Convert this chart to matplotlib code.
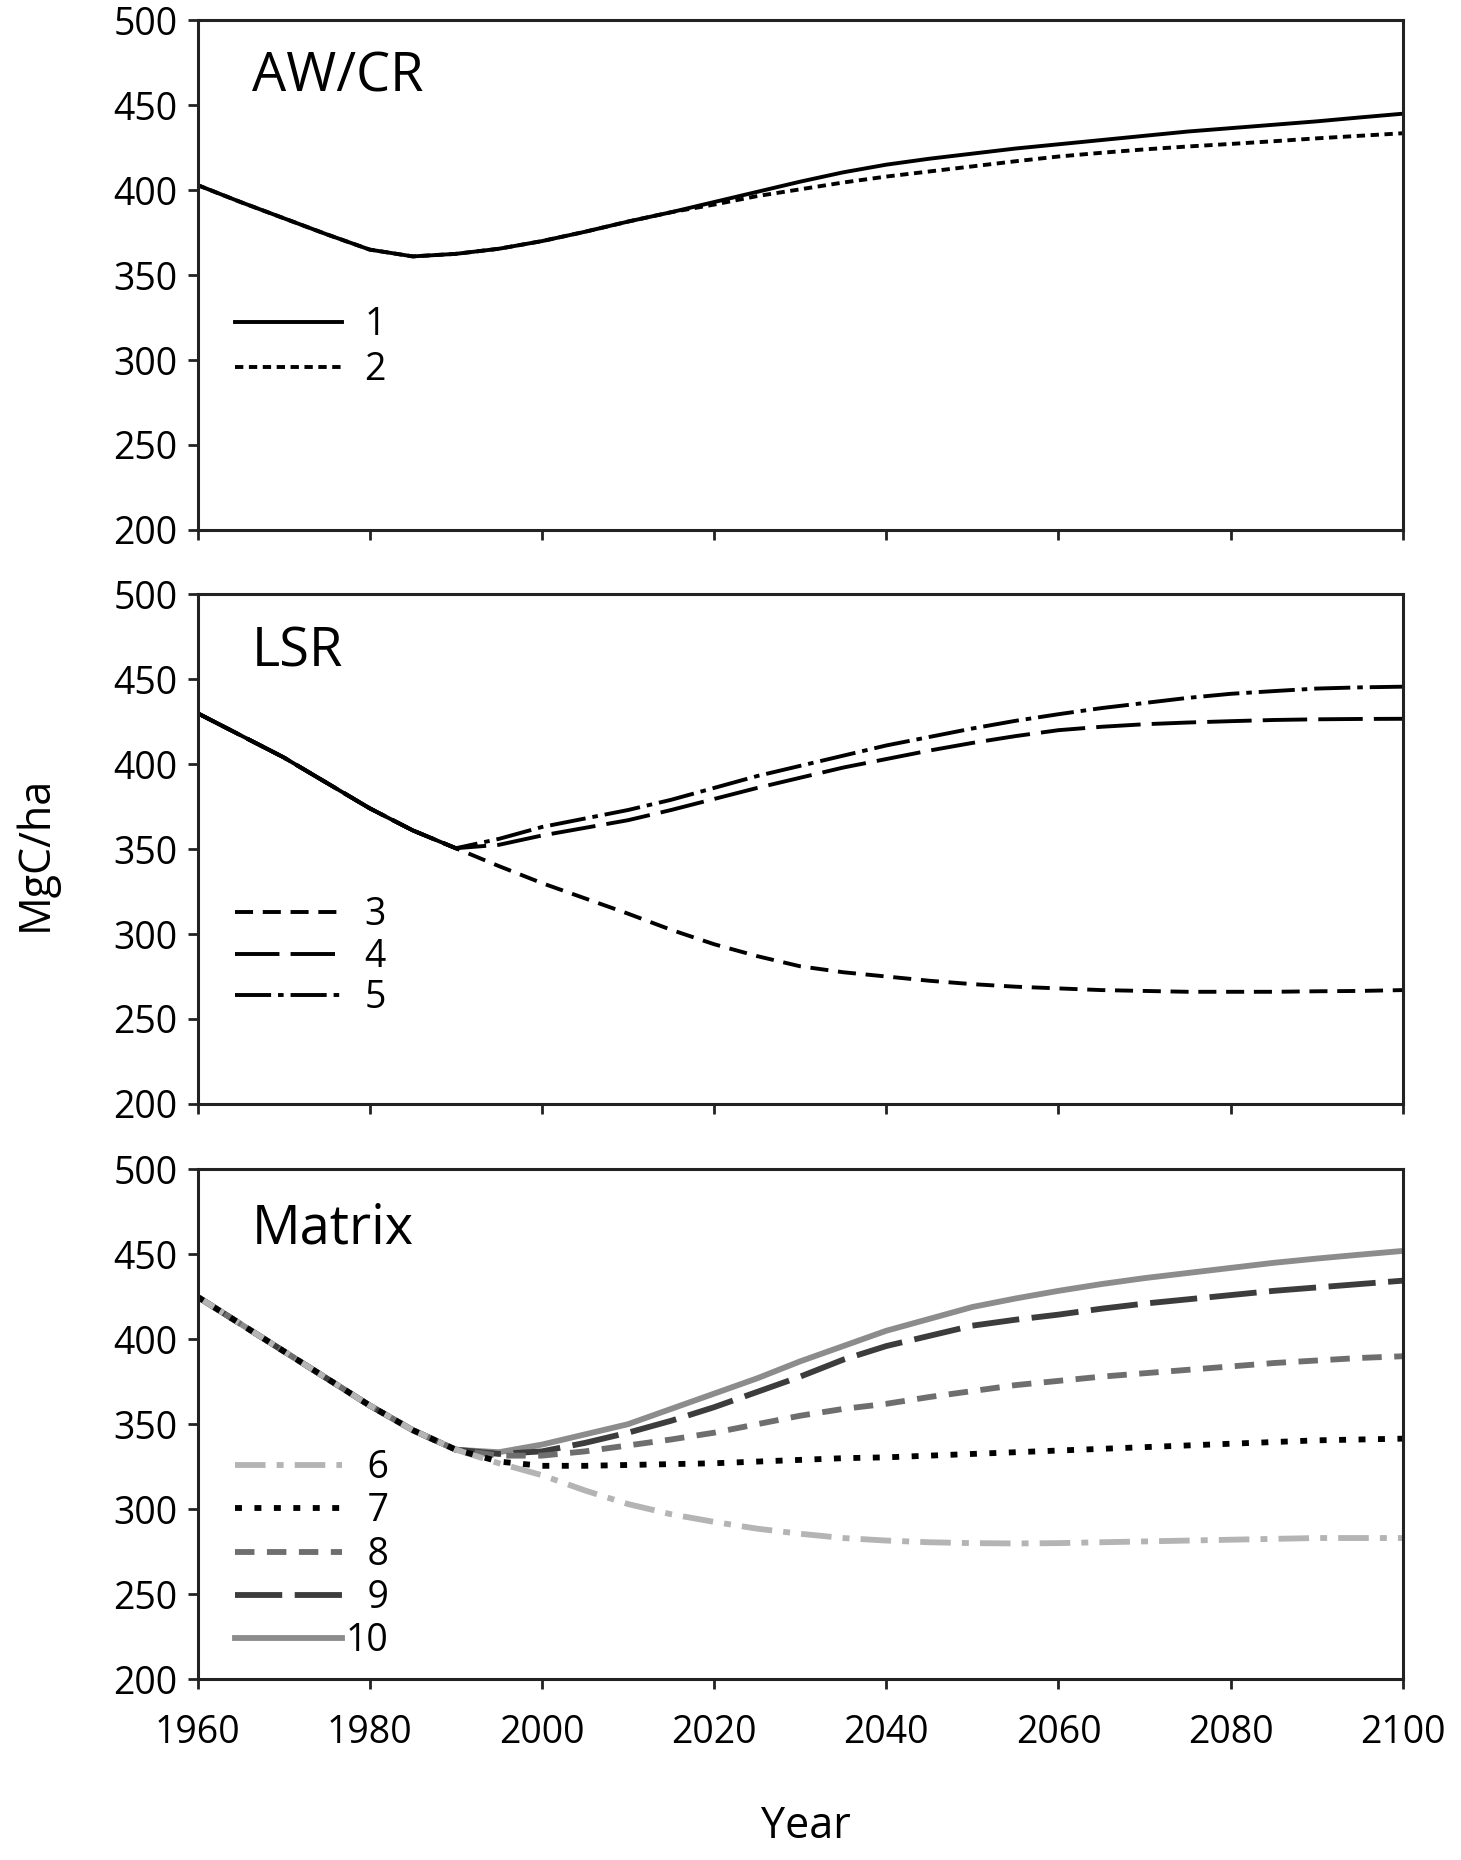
import matplotlib
matplotlib.use("Agg")
import matplotlib.pyplot as plt

plt.rcParams['font.family'] = ['Open Sans', 'DejaVu Sans']
plt.rcParams['lines.scale_dashes'] = False

# years every 5 yr, 1960-2100
years = list(range(1960, 2101, 5))
years_hist = years[:7]          # 1960-1990
years_fut = years[7:]           # 1995-2100

# AW/CR
awcr_1 = [403, 393, 383.5, 374, 365, 361, 362.5, 365.5, 370, 375.5, 381.5, 387,
          393, 399, 405, 410.5, 415, 418.5, 421.5, 424.5, 427, 429.5, 432, 434.5,
          436.5, 438.5, 440.5, 442.8, 445]
awcr_2 = [403, 393, 383.5, 374, 365, 361, 362.5, 365.5, 370, 375.5, 381.5, 387,
          391.5, 396.5, 400.5, 404.5, 408, 411, 414, 417, 419.8, 422, 424, 425.7,
          427.2, 428.8, 430.5, 432, 433.5]

# LSR
lsr_hist = [430, 417, 404, 389, 374, 361, 350.5]
lsr_3 = [340, 330, 321, 312, 302.5, 294, 287, 281, 277.5, 275, 272.5, 270.5,
         269, 268, 267, 266.5, 266, 266, 266, 266.3, 266.5, 267]
lsr_4 = [352.5, 358, 362.5, 367, 373, 379.5, 386, 392, 398, 403, 408, 412.5,
         416.5, 420, 422, 423.5, 424.5, 425.3, 426, 426.4, 426.6, 426.7]
lsr_5 = [356, 363, 368, 373, 379, 386, 393, 399, 405, 411, 416, 421,
         425.5, 429.4, 433, 436, 439, 441.4, 443, 444.5, 445.2, 445.6]

# Matrix
mat_hist = [425, 409, 393, 377, 361, 346.5, 335]
mat_6 = [327, 320, 311, 303, 297, 292.5, 288.5, 285.5, 283, 281.5, 280.5, 280,
         279.8, 280, 280.5, 281, 281.5, 282, 282.5, 283, 283, 283]
mat_7 = [328, 325.5, 325.5, 326, 326.5, 327, 328, 329, 330, 330.5, 331.5, 332.5,
         333.5, 334.5, 335.5, 336.5, 337.5, 338.5, 339.5, 340.5, 341, 341.5]
mat_8 = [331.5, 331.5, 334, 337.5, 341, 345, 350, 355, 359, 362, 366, 369.5,
         373, 375.5, 378, 380, 382, 384, 386, 387.5, 389, 390]
mat_9 = [332.5, 334, 339, 345, 352, 360, 369, 378, 388, 396, 402, 408,
         411.5, 414.5, 418, 421, 423.5, 426, 428.5, 430.5, 432.5, 434.5]
mat_10 = [333.5, 338, 344, 350, 359, 368, 377, 387, 396, 405, 412, 419,
          424, 428.5, 432.5, 436, 439, 442, 445, 447.5, 449.8, 452]

fig = plt.figure(figsize=(14.61, 18.6), dpi=100)
ax1 = fig.add_axes([0.1352, 0.7151, 0.825, 0.274])
ax2 = fig.add_axes([0.1352, 0.4065, 0.825, 0.274])
ax3 = fig.add_axes([0.1352, 0.0973, 0.825, 0.274])

lw_thin = 2.8
lw_thick = 4.2

# panel 1
ax1.plot(years, awcr_1, color='black', lw=lw_thin, label='1')
ax1.plot(years, awcr_2, color='black', lw=lw_thin, ls=(0, (6, 4)), label='2')

# panel 2
ax2.plot(years_hist, lsr_hist, color='black', lw=lw_thin, label='_nolegend_')
ax2.plot(years_hist + years_fut, lsr_hist + lsr_3, color='black', lw=lw_thin,
         ls=(0, (13, 7)), label='3')
ax2.plot(years_hist + years_fut, lsr_hist + lsr_4, color='black', lw=lw_thin,
         ls=(0, (32, 8)), label='4')
ax2.plot(years_hist + years_fut, lsr_hist + lsr_5, color='black', lw=lw_thin,
         ls=(0, (26, 5, 4, 5)), label='5')

# panel 3
yrs = years_hist + years_fut
l10, = ax3.plot(yrs, mat_hist + mat_10, color='#8c8c8c', lw=lw_thick, label='10')
l9, = ax3.plot(yrs, mat_hist + mat_9, color='#3c3c3c', lw=lw_thick,
               ls=(0, (34, 9)), label='9')
l8, = ax3.plot(yrs, mat_hist + mat_8, color='#6e6e6e', lw=lw_thick,
               ls=(0, (14, 9)), label='8')
l6, = ax3.plot(yrs, mat_hist + mat_6, color='#b4b4b4', lw=lw_thick,
               ls=(0, (22, 8, 5, 8)), label='6')
l7, = ax3.plot(yrs, mat_hist + mat_7, color='black', lw=lw_thick,
               ls=(0, (5, 9)), label='7')

titles = ['AW/CR', 'LSR', 'Matrix']
title_y = [0.861, 0.858, 0.855]
for ax, t, ty in zip([ax1, ax2, ax3], titles, title_y):
    ax.set_xlim(1960, 2100)
    ax.set_ylim(200, 500)
    ax.set_xticks(range(1960, 2101, 20))
    ax.set_yticks(range(200, 501, 50))
    for s in ax.spines.values():
        s.set_linewidth(2.2)
        s.set_color('#222222')
    ax.tick_params(direction='out', length=7.5, width=2, labelsize=27,
                   color='#222222', pad=7)
    ax.tick_params(axis='x', pad=18)
    ax.text(0.045, ty, t, transform=ax.transAxes, fontsize=39,
            ha='left', va='baseline')

ax1.tick_params(axis='x', labelbottom=False)
ax2.tick_params(axis='x', labelbottom=False)

leg_kw = dict(loc='upper left', frameon=False, fontsize=27, handlelength=2.85,
              borderaxespad=0, borderpad=0)
ax1.legend(bbox_to_anchor=(0.031, 0.439), handletextpad=0.6,
           labelspacing=0.18, **leg_kw)
ax2.legend(bbox_to_anchor=(0.031, 0.408), handletextpad=0.6,
           labelspacing=0.1, **leg_kw)
ax3.legend(handles=[l6, l7, l8, l9, l10],
           labels=['\u20076', '\u20077', '\u20078', '\u20079', '10'],
           bbox_to_anchor=(0.031, 0.451), handletextpad=0.1,
           labelspacing=0.14, **leg_kw)

fig.text(0.0246, 0.541, 'MgC/ha', rotation=90, fontsize=31,
         ha='center', va='center')
fig.text(0.5517, 0.018, 'Year', fontsize=31, ha='center', va='center')

fig.savefig('out.png', dpi=100)
